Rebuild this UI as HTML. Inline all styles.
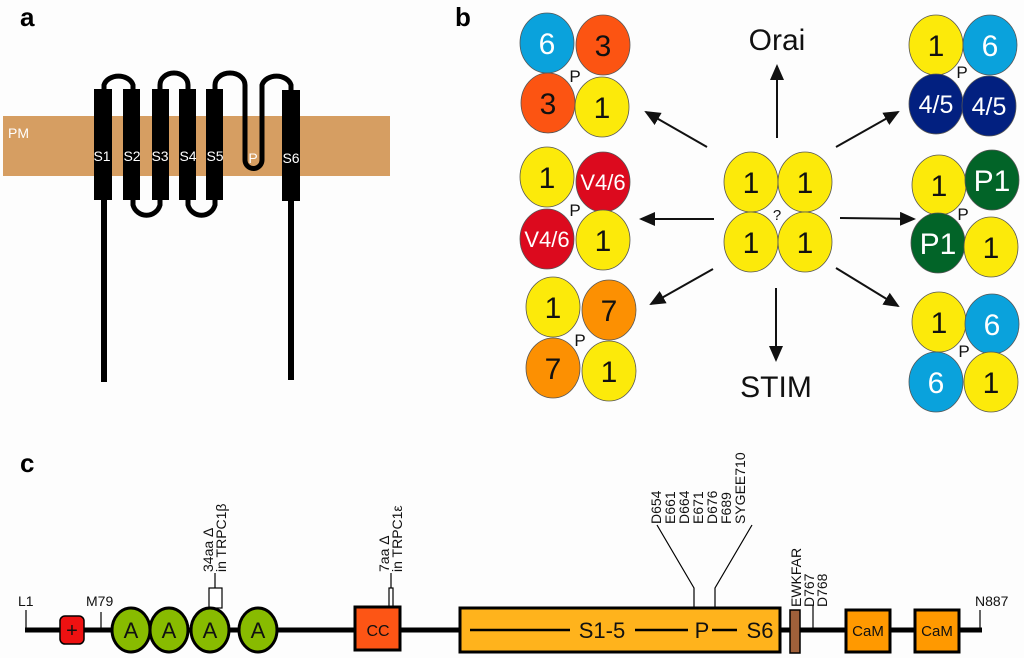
<!DOCTYPE html>
<html><head><meta charset="utf-8"><style>html,body{margin:0;padding:0;background:#fdfdfd}svg{display:block}</style></head>
<body>
<svg width="1024" height="658" viewBox="0 0 1024 658" xmlns="http://www.w3.org/2000/svg" font-family="Liberation Sans, Arial, sans-serif">
<defs><marker id="ah" markerWidth="16" markerHeight="14" refX="14" refY="7" orient="auto" markerUnits="userSpaceOnUse"><path d="M0,0 L16,7 L0,14 z" fill="#111"/></marker></defs>
<rect width="1024" height="658" fill="#fdfdfd"/>
<!-- panel a -->
<text x="20" y="26" font-size="26" font-weight="bold">a</text>
<rect x="3" y="116" width="387" height="60" fill="#d69e62"/>
<text x="8" y="138" font-size="14" fill="#fff">PM</text>
<g fill="none" stroke="#000" stroke-width="5">
<path d="M104,90 V85 A15,12 0 0 1 133,85 V90"/>
<path d="M160,90 V85 A14,12 0 0 1 188,85 V90"/>
<path d="M215,90 V85 A15,12 0 0 1 245,85 V160 A8,8 0 0 0 262,160 V85 A15,12 0 0 1 291,85 V90"/>
<path d="M133,200 V205 A14,14 0 0 0 160,205 V200"/>
<path d="M188,200 V205 A14,14 0 0 0 215,205 V200"/>
</g>
<g fill="#000">
<rect x="94" y="89" width="18" height="111"/><rect x="123" y="89" width="17" height="111"/>
<rect x="152" y="89" width="17" height="111"/><rect x="179" y="89" width="17" height="111"/>
<rect x="206" y="89" width="17" height="111"/><rect x="282" y="90" width="18" height="111"/>
<rect x="101" y="200" width="6" height="182"/><rect x="288" y="200" width="6" height="180"/>
</g>
<g fill="#fff" font-size="14" text-anchor="middle">
<text x="102" y="161">S1</text><text x="132" y="161">S2</text><text x="160" y="161">S3</text>
<text x="188" y="161">S4</text><text x="215" y="161">S5</text><text x="253" y="163">P</text><text x="291" y="163">S6</text>
</g>
<!-- panel b -->
<text x="455" y="26" font-size="26" font-weight="bold">b</text>
<g stroke="#555" stroke-width="0.8" font-size="30" text-anchor="middle">
<g>
<ellipse cx="547" cy="43" rx="27" ry="30" fill="#0aa2dc"/><ellipse cx="603" cy="45" rx="27" ry="30" fill="#fc5412"/>
<ellipse cx="548" cy="103" rx="27" ry="30" fill="#fc5412"/><ellipse cx="602" cy="107" rx="27" ry="30" fill="#fcea0a"/>
<ellipse cx="547" cy="177" rx="27" ry="30" fill="#fcea0a"/><ellipse cx="603" cy="182" rx="27" ry="30" fill="#dc0a1e"/>
<ellipse cx="547" cy="239" rx="27" ry="30" fill="#dc0a1e"/><ellipse cx="603" cy="240" rx="27" ry="30" fill="#fcea0a"/>
<ellipse cx="553" cy="307" rx="27" ry="30" fill="#fcea0a"/><ellipse cx="609" cy="310" rx="27" ry="30" fill="#fc9002"/>
<ellipse cx="553" cy="368" rx="27" ry="30" fill="#fc9002"/><ellipse cx="609" cy="371" rx="27" ry="30" fill="#fcea0a"/>
<ellipse cx="751" cy="182" rx="27" ry="30" fill="#fcea0a"/><ellipse cx="805" cy="182" rx="27" ry="30" fill="#fcea0a"/>
<ellipse cx="751" cy="242" rx="27" ry="30" fill="#fcea0a"/><ellipse cx="805" cy="242" rx="27" ry="30" fill="#fcea0a"/>
<ellipse cx="936" cy="45" rx="27" ry="30" fill="#fcea0a"/><ellipse cx="990" cy="45" rx="27" ry="30" fill="#0aa2dc"/>
<ellipse cx="936" cy="104" rx="27" ry="30" fill="#022080"/><ellipse cx="989" cy="106" rx="27" ry="30" fill="#022080"/>
<ellipse cx="939" cy="185" rx="27" ry="30" fill="#fcea0a"/><ellipse cx="992" cy="180" rx="27" ry="30" fill="#026428"/>
<ellipse cx="938" cy="243" rx="27" ry="30" fill="#026428"/><ellipse cx="991" cy="247" rx="27" ry="30" fill="#fcea0a"/>
<ellipse cx="939" cy="322" rx="27" ry="30" fill="#fcea0a"/><ellipse cx="992" cy="324" rx="27" ry="30" fill="#0aa2dc"/>
<ellipse cx="936" cy="382" rx="27" ry="30" fill="#0aa2dc"/><ellipse cx="991" cy="382" rx="27" ry="30" fill="#fcea0a"/>
</g>
<g stroke="none">
<text x="547" y="54" fill="#fff">6</text><text x="603" y="56" fill="#111">3</text>
<text x="548" y="114" fill="#111">3</text><text x="602" y="118" fill="#111">1</text>
<text x="547" y="188" fill="#111">1</text><text x="603" y="190" fill="#fff" font-size="22">V4/6</text>
<text x="547" y="247" fill="#fff" font-size="22">V4/6</text><text x="603" y="251" fill="#111">1</text>
<text x="553" y="318" fill="#111">1</text><text x="609" y="321" fill="#111">7</text>
<text x="553" y="379" fill="#111">7</text><text x="609" y="382" fill="#111">1</text>
<text x="751" y="193" fill="#111">1</text><text x="805" y="193" fill="#111">1</text>
<text x="751" y="253" fill="#111">1</text><text x="805" y="253" fill="#111">1</text>
<text x="936" y="56" fill="#111">1</text><text x="990" y="56" fill="#fff">6</text>
<text x="936" y="113" fill="#fff" font-size="25">4/5</text><text x="989" y="115" fill="#fff" font-size="25">4/5</text>
<text x="939" y="196" fill="#111">1</text><text x="992" y="191" fill="#fff">P1</text>
<text x="938" y="254" fill="#fff">P1</text><text x="991" y="258" fill="#111">1</text>
<text x="939" y="333" fill="#111">1</text><text x="992" y="335" fill="#fff">6</text>
<text x="936" y="393" fill="#fff">6</text><text x="991" y="393" fill="#111">1</text>
<g font-size="17" fill="#111"><text x="575" y="82">P</text><text x="575" y="216">P</text><text x="580" y="346">P</text>
<text x="962" y="78">P</text><text x="963" y="220">P</text><text x="964" y="357">P</text>
<text x="777" y="220" font-size="15">?</text></g>
<text x="777" y="50" font-size="30" fill="#111">Orai</text>
<text x="776" y="397" font-size="30" fill="#111">STIM</text>
</g>
</g>
<g stroke="#111" stroke-width="2" marker-end="url(#ah)">
<line x1="777" y1="138" x2="777" y2="66"/><line x1="776" y1="288" x2="776" y2="360"/>
<line x1="707" y1="147" x2="646" y2="112"/><line x1="714" y1="219" x2="641" y2="219"/>
<line x1="713" y1="269" x2="651" y2="304"/><line x1="836" y1="147" x2="898" y2="112"/>
<line x1="840" y1="218" x2="914" y2="219"/><line x1="836" y1="268" x2="898" y2="306"/>
</g>
<!-- panel c -->
<text x="20" y="472" font-size="26" font-weight="bold">c</text>
<line x1="25" y1="630" x2="982" y2="630" stroke="#000" stroke-width="5"/>
<g stroke="#000" stroke-width="1.2" fill="none">
<polyline points="26,630 26,610"/><line x1="101" y1="630" x2="101" y2="612"/>
<line x1="215" y1="588" x2="215" y2="573"/><line x1="391" y1="588" x2="391" y2="573"/>
<polyline points="694,608 694,588 657,525"/><polyline points="715,608 715,588 752,525"/>
<line x1="813" y1="630" x2="813" y2="605"/><line x1="980" y1="630" x2="980" y2="610"/>
<rect x="209" y="588" width="13" height="20" fill="#fff"/><rect x="389" y="588" width="4" height="20" fill="#fff"/>
</g>
<g font-size="14" fill="#111">
<text x="18" y="606">L1</text><text x="86" y="606">M79</text><text x="975" y="606">N887</text>
<g transform="rotate(-90)">
<text x="-572" y="213">34aa Δ</text><text x="-572" y="226">in TRPC1β</text>
<text x="-572" y="389">7aa Δ</text><text x="-572" y="402">in TRPC1ε</text>
<text x="-524" y="661">D654</text><text x="-524" y="675">E661</text><text x="-524" y="689">D664</text>
<text x="-524" y="703">E671</text><text x="-524" y="717">D676</text><text x="-524" y="731">F689</text><text x="-524" y="745">SYGEE710</text>
<text x="-607" y="801">EWKFAR</text><text x="-607" y="814">D767</text><text x="-607" y="827">D768</text>
</g>
</g>
<rect x="60" y="616" width="24" height="28" rx="5" fill="#ee1111" stroke="#000" stroke-width="1.5"/>
<text x="72" y="637" font-size="20" text-anchor="middle" fill="#111">+</text>
<g fill="#88bb00" stroke="#000" stroke-width="3">
<ellipse cx="131" cy="630" rx="19" ry="22"/><ellipse cx="169" cy="630" rx="19" ry="22"/>
<ellipse cx="210" cy="630" rx="19" ry="22"/><ellipse cx="258" cy="630" rx="19" ry="22"/>
</g>
<g font-size="22" text-anchor="middle" fill="#111"><text x="131" y="638">A</text><text x="169" y="638">A</text><text x="210" y="638">A</text><text x="258" y="638">A</text></g>
<rect x="355" y="607" width="45" height="43" fill="#fd5515" stroke="#000" stroke-width="3"/>
<text x="378" y="636" font-size="16" text-anchor="middle" fill="#111">CC</text>
<rect x="460" y="608" width="320" height="44" fill="#ffb31c" stroke="#000" stroke-width="3"/>
<g stroke="#000" stroke-width="2.5"><line x1="470" y1="630" x2="570" y2="630"/><line x1="635" y1="630" x2="688" y2="630"/><line x1="712" y1="630" x2="737" y2="630"/></g>
<g font-size="22" fill="#111" text-anchor="middle"><text x="602" y="638">S1-5</text><text x="702" y="638">P</text><text x="760" y="638">S6</text></g>
<rect x="790" y="610" width="10" height="43" fill="#a0603a" stroke="#000" stroke-width="1.5"/>
<rect x="846" y="610" width="44" height="42" fill="#ff9900" stroke="#000" stroke-width="3"/>
<rect x="915" y="610" width="44" height="42" fill="#ff9900" stroke="#000" stroke-width="3"/>
<g font-size="15" fill="#111" text-anchor="middle"><text x="868" y="636">CaM</text><text x="937" y="636">CaM</text></g>
</svg>
</body></html>
